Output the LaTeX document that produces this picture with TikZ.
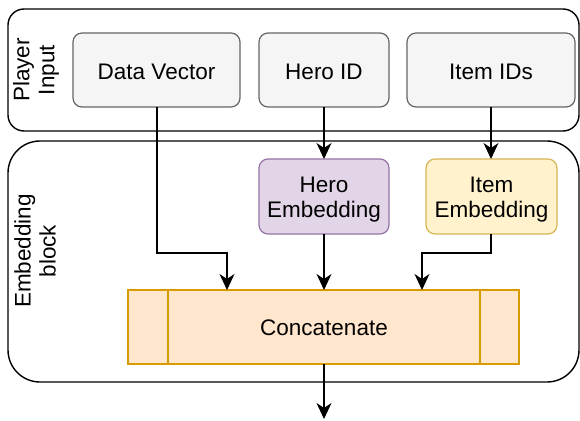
\documentclass[tikz,border=0pt]{standalone}
\usepackage{fontspec}
\setmainfont{Liberation Sans}
\usetikzlibrary{arrows.meta}
\definecolor{grayfill}{HTML}{F5F5F5}
\definecolor{graystroke}{HTML}{666666}
\definecolor{purpfill}{HTML}{E1D5E7}
\definecolor{purpstroke}{HTML}{9673A6}
\definecolor{yelfill}{HTML}{FFF2CC}
\definecolor{yelstroke}{HTML}{D6B656}
\definecolor{orfill}{HTML}{FFE6CC}
\definecolor{orstroke}{HTML}{D79B00}
\tikzset{
  px/.style={x=1pt,y=-1pt},
  container/.style={draw=black,line width=1.4pt},
  lbl/.style={font=\fontsize{22.5}{25}\selectfont,align=center,inner sep=0pt},
  inbox/.style={draw=graystroke,fill=grayfill,rounded corners=9pt,line width=1.2pt},
  herobox/.style={draw=purpstroke,fill=purpfill,rounded corners=9pt,line width=1.2pt},
  itembox/.style={draw=yelstroke,fill=yelfill,rounded corners=9pt,line width=1.2pt},
  concbox/.style={draw=orstroke,fill=orfill,line width=1.3pt},
  conn/.style={draw=black,line width=1.3pt,-{Stealth[length=16pt,width=15pt,inset=5pt]}},
}
\begin{document}
\begin{tikzpicture}[px]
\useasboundingbox (0,0) rectangle (580,420);
% containers
\draw[container,rounded corners=16pt] (8,9) rectangle (579,131);
\node[lbl,rotate=90] (pil) at (36,70) {Player\\Input};
\draw[container,rounded corners=32pt] (8,141) rectangle (579,382);
\node[lbl,rotate=90] (ebl) at (35,251) {Embedding\\block};
% input boxes
\draw[inbox] (73,33) rectangle (240,107);
\node[lbl] (dv) at (156.5,72) {Data Vector};
\coordinate (dvb) at (157,107);
\draw[inbox] (259,33) rectangle (389,107);
\node[lbl] (hid) at (324,72) {Hero ID};
\coordinate (hidb) at (324,107);
\draw[inbox] (407,33) rectangle (575,107);
\node[lbl] (iid) at (491,72) {Item IDs};
\coordinate (iidb) at (491,107);
% embeddings
\draw[herobox] (259,159) rectangle (389,234);
\node[lbl] (he) at (324,199.5) {Hero\\Embedding};
\coordinate (het) at (324,159);
\coordinate (heb) at (324,234);
\draw[itembox] (426,159) rectangle (557,234);
\node[lbl] (ie) at (491.5,199.5) {Item\\Embedding};
\coordinate (iet) at (491,159);
\coordinate (ieb) at (491,234);
% concatenate
\draw[concbox] (128,290) rectangle (519,364);
\draw[orstroke,line width=1.3pt] (168,290) -- (168,364);
\draw[orstroke,line width=1.3pt] (480,290) -- (480,364);
\node[lbl] (cc) at (324,328) {Concatenate};
\coordinate (cc1) at (227,290);
\coordinate (cc2) at (324,290);
\coordinate (cc3) at (422,290);
\coordinate (ccb) at (324,364);
\coordinate (out) at (324,419);
% connectors
\draw[conn] (dvb) -- (157,253) -| (cc1);
\draw[conn] (hidb) -- (het);
\draw[conn] (iidb) -- (iet);
\draw[conn] (heb) -- (cc2);
\draw[conn] (ieb) -- (491,253) -| (cc3);
\draw[conn] (ccb) -- (out);
\end{tikzpicture}
\end{document}
